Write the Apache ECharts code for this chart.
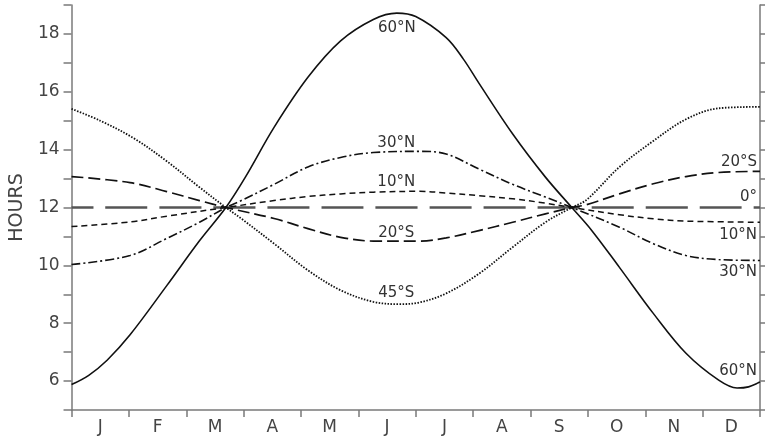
<!DOCTYPE html>
<html>
<head>
<meta charset="utf-8">
<script src="https://cdn.jsdelivr.net/npm/echarts@6/dist/echarts.min.js"></script>
<style>
  html, body { margin: 0; padding: 0; background: #fff; }
  #chart { width: 765px; height: 437px; }
</style>
</head>
<body>
<div id="chart"></div>
<script>
// Month initials along the bottom axis
const months = ['J', 'F', 'M', 'A', 'M', 'J', 'J', 'A', 'S', 'O', 'N', 'D'];

// Day length in hours, as [month position (0 = 1 Jan, 12 = 31 Dec), hours]
const lat60N = [[0, 5.88], [0.3, 6.2], [0.62, 6.72], [1.02, 7.6], [1.66, 9.3], [2.23, 10.85], [2.69, 12.0],
  [3.03, 13.05], [3.53, 14.77], [4.12, 16.5], [4.69, 17.76], [5.26, 18.5], [5.67, 18.72],
  [6.0, 18.6], [6.53, 17.87], [6.83, 17.13], [7.1, 16.3], [7.69, 14.54], [8.26, 13.05],
  [8.72, 12.0], [9.07, 11.2], [9.55, 9.93], [10.14, 8.34], [10.71, 6.96], [11.28, 6.03], [11.6, 5.76],
  [11.8, 5.8], [12, 5.97]];
const lat30N = [[0, 10.03], [1.02, 10.34], [1.66, 10.93], [2.23, 11.49], [2.69, 12.0], [2.97, 12.25],
  [3.53, 12.8], [4.12, 13.4], [4.69, 13.73], [5.26, 13.9], [6.07, 13.94], [6.53, 13.85], [7.1, 13.33],
  [7.69, 12.8], [8.26, 12.36], [8.72, 12.0], [9.55, 11.32], [10.14, 10.75], [10.71, 10.34], [11.28, 10.2],
  [12, 10.17]];
const lat10N = [[0, 11.34], [1.02, 11.5], [1.66, 11.7], [2.69, 12.0], [3.53, 12.24], [4.12, 12.38],
  [4.69, 12.47], [5.26, 12.53], [6.07, 12.56], [6.53, 12.5], [7.1, 12.41], [7.69, 12.3], [8.26, 12.15],
  [8.72, 12.0], [9.55, 11.75], [10.14, 11.61], [10.71, 11.53], [12, 11.49]];
const lat0 = [[0, 12], [12, 12]];
const lat20S = [[0, 13.07], [1.02, 12.86], [1.66, 12.55], [2.23, 12.24], [2.69, 12.0], [3.53, 11.62],
  [4.12, 11.27], [4.69, 10.97], [5.26, 10.84], [6.07, 10.84], [6.53, 10.95], [7.1, 11.2], [7.69, 11.49],
  [8.26, 11.78], [8.72, 12.0], [8.98, 12.1], [9.55, 12.47], [10.14, 12.82], [10.71, 13.07], [11.28, 13.21],
  [12, 13.25]];
const lat45S = [[0, 15.41], [0.5, 15.0], [1.08, 14.4], [1.66, 13.6], [2.23, 12.7], [2.69, 12.0],
  [2.97, 11.6], [3.53, 10.75], [4.12, 9.83], [4.69, 9.14], [5.26, 8.74], [5.72, 8.66], [6.07, 8.72],
  [6.53, 9.03], [7.1, 9.71], [7.69, 10.63], [8.26, 11.49], [8.72, 12.0], [8.98, 12.27], [9.55, 13.4],
  [10.14, 14.3], [10.71, 15.05], [11.28, 15.43], [12, 15.48]];

const FONT = 'DejaVu Sans';
const AXIS_GREY = '#7a7a7a';

// A text tag pinned to a data point of a curve
function tag(text, coord, align, offset) {
  return {
    coord: coord,
    symbol: 'circle',
    symbolSize: 1,
    itemStyle: { color: 'rgba(0,0,0,0)' },
    label: {
      show: true, position: 'inside', formatter: text, align: align, verticalAlign: 'middle',
      offset: offset, fontFamily: FONT, fontSize: 15, color: '#333'
    }
  };
}

function curve(name, data, lineStyle, tags) {
  return {
    name: name, type: 'line', xAxisIndex: 1, yAxisIndex: 0,
    data: data, smooth: 0.35, showSymbol: false, symbol: 'none',
    lineStyle: Object.assign({ color: '#111', width: 1.5, cap: 'butt' }, lineStyle),
    markPoint: { silent: true, data: tags },
    z: 3
  };
}

const chart = echarts.init(document.getElementById('chart'), null, { renderer: 'canvas' });
chart.setOption({
  animation: false,
  backgroundColor: '#fff',
  grid: { left: 64, right: 5, top: 5, bottom: 27, containLabel: false },
  xAxis: [
    {
      type: 'category', data: months, boundaryGap: true, position: 'bottom',
      axisLine: { lineStyle: { color: AXIS_GREY, width: 1.5 } },
      axisTick: { show: true, length: 7, lineStyle: { color: AXIS_GREY, width: 1.5 } },
      axisLabel: { fontFamily: FONT, fontSize: 17, color: '#444', margin: 9 },
      splitLine: { show: false }
    },
    { type: 'value', min: 0, max: 12, show: false }
  ],
  yAxis: [
    {
      type: 'value', min: 5, max: 19, interval: 1, position: 'left',
      name: 'HOURS', nameLocation: 'middle', nameGap: 40, nameRotate: 90,
      nameTextStyle: { fontFamily: FONT, fontSize: 19, color: '#444' },
      axisLine: { show: true, lineStyle: { color: AXIS_GREY, width: 1.5 } },
      axisTick: { show: true, length: 8, lineStyle: { color: AXIS_GREY, width: 1.5 } },
      axisLabel: {
        fontFamily: FONT, fontSize: 17, color: '#444', margin: 12,
        formatter: v => (v % 2 === 0 ? String(v) : '')
      },
      splitLine: { show: false }
    },
    {
      type: 'value', min: 5, max: 19, interval: 1, position: 'right',
      axisLine: { show: true, lineStyle: { color: AXIS_GREY, width: 1.5 } },
      axisTick: { show: true, length: 5, lineStyle: { color: AXIS_GREY, width: 1.5 } },
      axisLabel: { show: false },
      splitLine: { show: false }
    }
  ],
  series: [
    curve('0°', lat0, { type: [42, 12], dashOffset: 20, width: 2.4, color: '#555' }, [
      tag('0°', [12, 12], 'right', [-3, -10])
    ]),
    curve('60°N', lat60N, { type: 'solid', width: 1.6 }, [
      tag('60°N', [5.67, 18.7], 'center', [0, 14]),
      tag('60°N', [12, 5.97], 'right', [-3, -11])
    ]),
    curve('30°N', lat30N, { type: [9, 3, 2, 3], width: 1.6 }, [
      tag('30°N', [5.66, 13.92], 'center', [0, -9]),
      tag('30°N', [12, 10.17], 'right', [-3, 12])
    ]),
    curve('10°N', lat10N, { type: [6, 4], width: 1.5 }, [
      tag('10°N', [5.66, 12.55], 'center', [0, -9]),
      tag('10°N', [12, 11.49], 'right', [-3, 13])
    ]),
    curve('20°S', lat20S, { type: [12, 5], width: 1.7 }, [
      tag('20°S', [5.66, 10.84], 'center', [0, -8]),
      tag('20°S', [12, 13.25], 'right', [-3, -9])
    ]),
    curve('45°S', lat45S, { type: [1.5, 1.5], width: 1.8 }, [
      tag('45°S', [5.66, 8.66], 'center', [0, -11])
    ])
  ]
});
</script>
</body>
</html>
